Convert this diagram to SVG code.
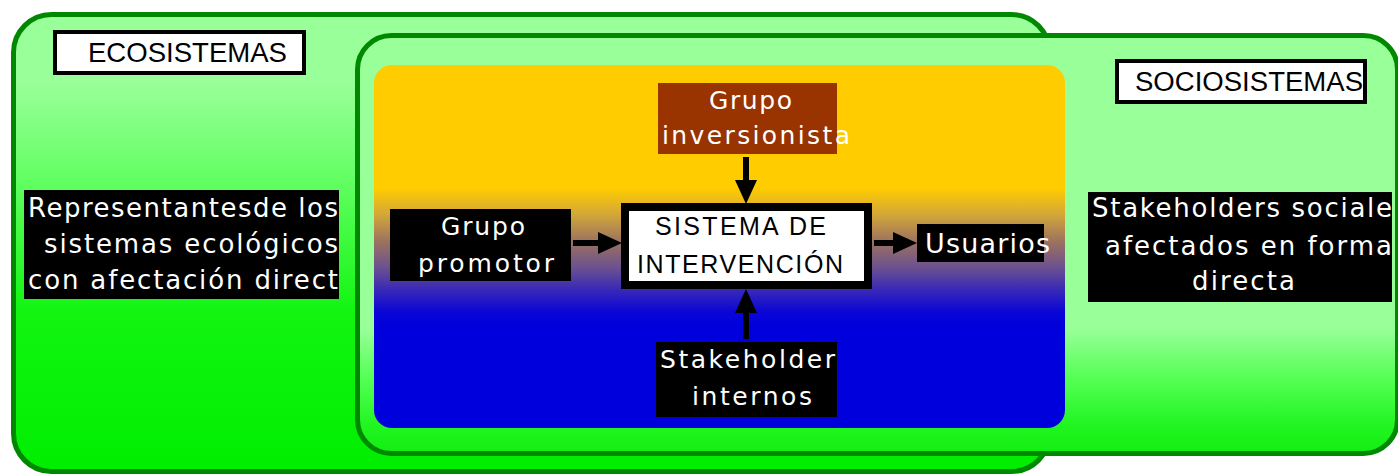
<svg xmlns="http://www.w3.org/2000/svg" width="1398" height="474" viewBox="0 0 1398 474">
<style>
.wt{font-family:"DejaVu Sans","Liberation Sans",sans-serif;fill:#ffffff}
.bt{font-family:"Liberation Sans",Arial,sans-serif;fill:#000000}
.blk{fill:#000000}
.lbl{fill:#ffffff;stroke:#000000;stroke-width:4}
.conn{stroke:#000000;stroke-width:6;fill:none}
</style>
<defs>
<linearGradient id="gOuter" x1="0" y1="14" x2="0" y2="472" gradientUnits="userSpaceOnUse">
<stop offset="0" stop-color="#99FF99"/>
<stop offset="0.15" stop-color="#99FF99"/>
<stop offset="0.35" stop-color="#66FF66"/>
<stop offset="0.65" stop-color="#11F511"/>
<stop offset="1" stop-color="#00EE00"/>
</linearGradient>
<linearGradient id="gInner" x1="0" y1="35" x2="0" y2="454" gradientUnits="userSpaceOnUse">
<stop offset="0" stop-color="#99FF99"/>
<stop offset="0.7" stop-color="#99FF99"/>
<stop offset="0.82" stop-color="#55FF55"/>
<stop offset="0.93" stop-color="#22F522"/>
<stop offset="1" stop-color="#11EE11"/>
</linearGradient>
<linearGradient id="gPanel" x1="0" y1="65" x2="0" y2="428" gradientUnits="userSpaceOnUse">
<stop offset="0" stop-color="#FFCC00"/>
<stop offset="0.34" stop-color="#FFCC00"/>
<stop offset="0.41" stop-color="#D4A838"/>
<stop offset="0.49" stop-color="#9A7062"/>
<stop offset="0.56" stop-color="#6A5090"/>
<stop offset="0.62" stop-color="#3828B8"/>
<stop offset="0.68" stop-color="#0A06D6"/>
<stop offset="0.72" stop-color="#0000DD"/>
<stop offset="1" stop-color="#0000DD"/>
</linearGradient>
<marker id="ah" viewBox="0 0 24 22" markerWidth="24" markerHeight="22" refX="0" refY="11" orient="auto" markerUnits="userSpaceOnUse">
<path d="M0,0 L24,11 L0,22 Z" fill="#000000"/>
</marker>
</defs>

<g id="ecosistemas">
<rect x="13.5" y="14.5" width="1036" height="457" rx="38" fill="url(#gOuter)" stroke="#008800" stroke-width="5"/>
</g>
<g id="sociosistemas">
<rect x="357.5" y="35.5" width="1040" height="418" rx="34" fill="url(#gInner)" stroke="#008800" stroke-width="5"/>
</g>
<g id="panel">
<rect x="374" y="65" width="691" height="363" rx="18" fill="url(#gPanel)"/>
</g>

<g id="label-ecosistemas">
<rect class="lbl" x="55" y="32" width="249" height="41"/>
<text class="bt" x="88" y="62" font-size="28" textLength="199" lengthAdjust="spacingAndGlyphs">ECOSISTEMAS</text>
</g>
<g id="label-sociosistemas">
<rect class="lbl" x="1117" y="61" width="248" height="41"/>
<text class="bt" x="1135" y="91" font-size="27" textLength="228" lengthAdjust="spacingAndGlyphs">SOCIOSISTEMAS</text>
</g>

<g id="representantes">
<rect class="blk" x="24" y="190" width="315" height="109"/>
<text class="wt" x="28" y="217" font-size="26" textLength="310" lengthAdjust="spacing">Representantesde los</text>
<text class="wt" x="44" y="253" font-size="26" textLength="294" lengthAdjust="spacing">sistemas ecológicos</text>
<text class="wt" x="28" y="289" font-size="26" textLength="310" lengthAdjust="spacing">con afectación direct</text>
</g>

<g id="stakeholders-sociales">
<rect class="blk" x="1088" y="192" width="304" height="110"/>
<text class="wt" x="1092" y="217" font-size="26" textLength="300" lengthAdjust="spacing">Stakeholders sociale</text>
<text class="wt" x="1105" y="255" font-size="26" textLength="287" lengthAdjust="spacing">afectados en forma</text>
<text class="wt" x="1192" y="290" font-size="26" textLength="103" lengthAdjust="spacing">directa</text>
</g>

<g id="grupo-inversionista">
<rect x="658" y="83" width="179" height="71" fill="#993300"/>
<text class="wt" x="709" y="109" font-size="25" textLength="83" lengthAdjust="spacing">Grupo</text>
<text class="wt" x="662" y="144" font-size="25" textLength="188" lengthAdjust="spacing">inversionista</text>
</g>

<g id="grupo-promotor">
<rect class="blk" x="390" y="209" width="181" height="72"/>
<text class="wt" x="441" y="235" font-size="25" textLength="84" lengthAdjust="spacing">Grupo</text>
<text class="wt" x="418" y="272" font-size="25" textLength="136" lengthAdjust="spacing">promotor</text>
</g>

<g id="sistema-intervencion">
<rect x="625" y="207" width="243" height="78" fill="#ffffff" stroke="#000000" stroke-width="8"/>
<text class="bt" x="655" y="235" font-size="25" textLength="171" lengthAdjust="spacing">SISTEMA DE</text>
<text class="bt" x="637" y="273" font-size="25" textLength="206" lengthAdjust="spacing">INTERVENCIÓN</text>
</g>

<g id="usuarios">
<rect class="blk" x="917" y="224" width="127" height="38"/>
<text class="wt" x="925" y="253" font-size="27" textLength="125" lengthAdjust="spacing">Usuarios</text>
</g>

<g id="stakeholder-internos">
<rect class="blk" x="656" y="342" width="181" height="75"/>
<text class="wt" x="660" y="368" font-size="25" textLength="175" lengthAdjust="spacing">Stakeholder</text>
<text class="wt" x="692" y="405" font-size="25" textLength="120" lengthAdjust="spacing">internos</text>
</g>

<g id="connectors">
<line class="conn" x1="746" y1="157" x2="746" y2="180" marker-end="url(#ah)"/>
<line class="conn" x1="746" y1="339" x2="746" y2="313" marker-end="url(#ah)"/>
<line class="conn" x1="573" y1="243" x2="598" y2="243" marker-end="url(#ah)"/>
<line class="conn" x1="874" y1="243" x2="893" y2="243" marker-end="url(#ah)"/>
</g>
</svg>
